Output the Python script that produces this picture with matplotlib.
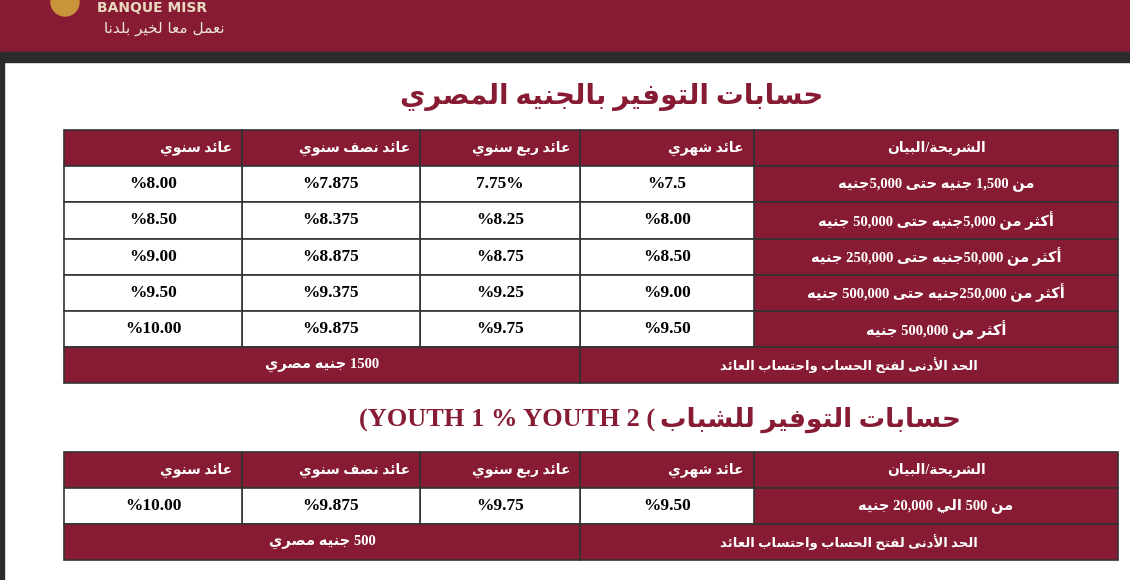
import matplotlib
matplotlib.use('Agg')
import matplotlib.pyplot as plt
from matplotlib.patches import Rectangle

# ---- data ----
col_headers = ['الشريحة/البيان', 'عائد شهري', 'عائد ربع سنوي', 'عائد نصف سنوي', 'عائد سنوي']
tiers = ['من 1,500 جنيه حتى 5,000جنيه',
         'أكثر من 5,000جنيه حتى 50,000 جنيه',
         'أكثر من 50,000جنيه حتى 250,000 جنيه',
         'أكثر من 250,000جنيه حتى 500,000 جنيه',
         'أكثر من 500,000 جنيه']
monthly = ['%7.5', '%8.00', '%8.50', '%9.00', '%9.50']
quarterly = ['7.75%', '%8.25', '%8.75', '%9.25', '%9.75']
semiannual = ['%7.875', '%8.375', '%8.875', '%9.375', '%9.875']
annual = ['%8.00', '%8.50', '%9.00', '%9.50', '%10.00']
min_label = 'الحد الأدنى لفتح الحساب واحتساب العائد'
min_amount1 = '1500 جنيه مصري'
title1 = 'حسابات التوفير بالجنيه المصري'

youth_tiers = ['من 500 الي 20,000 جنيه']
youth_monthly = ['%9.50']
youth_quarterly = ['%9.75']
youth_semiannual = ['%9.875']
youth_annual = ['%10.00']
min_amount2 = '500 جنيه مصري'
title2_ar = 'حسابات التوفير للشباب'
title2_lat = '(YOUTH 1 % YOUTH 2 ('
slogan = 'نعمل معا لخير بلدنا'

# ---- minimal arabic shaping ----
F = {}
def _add(chars, start, n):
    for c in chars:
        F[c] = tuple(chr(start + k) for k in range(n))
        start += n
_add('ء', 0xFE80, 1)
_add('آأؤإ', 0xFE81, 2)
_add('ئ', 0xFE89, 4)
_add('ا', 0xFE8D, 2)
_add('ب', 0xFE8F, 4)
_add('ة', 0xFE93, 2)
_add('تثجحخ', 0xFE95, 4)
_add('دذرز', 0xFEA9, 2)
_add('سشصضطظعغفقكلمنه', 0xFEB1, 4)
_add('و', 0xFEED, 2)
_add('ى', 0xFEEF, 2)
_add('ي', 0xFEF1, 4)
LAMALEF = {'آ': 0xFEF5, 'أ': 0xFEF7, 'إ': 0xFEF9, 'ا': 0xFEFB}

def shape(s):
    out = []
    i = 0
    n = len(s)
    def dual(c):
        return c in F and len(F[c]) == 4
    while i < n:
        c = s[i]
        if c not in F:
            out.append(c); i += 1; continue
        pj = i > 0 and dual(s[i - 1])
        if c == 'ل' and i + 1 < n and s[i + 1] in LAMALEF:
            out.append(chr(LAMALEF[s[i + 1]] + (1 if pj else 0)))
            i += 2; continue
        nj = dual(c) and i + 1 < n and s[i + 1] in F and s[i + 1] != 'ء'
        f = F[c]
        if len(f) == 1:
            out.append(f[0])
        elif pj and nj:
            out.append(f[3])
        elif nj:
            out.append(f[2])
        elif pj:
            out.append(f[1])
        else:
            out.append(f[0])
        i += 1
    return ''.join(out)

def ltr(c):
    return c.isascii() and (c.isalnum() or c in ',.%')

def ar(s):
    s = shape(s)
    runs = []
    for c in s:
        t = ltr(c)
        if runs and runs[-1][0] == t:
            runs[-1][1].append(c)
        else:
            runs.append([t, [c]])
    res = ''
    for t, chars in reversed(runs):
        res += ''.join(chars) if t else ''.join(reversed(chars))
    return res

# ---- drawing ----
MAROON = '#861b33'
FAM = ['Liberation Serif', 'DejaVu Sans']
fig = plt.figure(figsize=(11.3, 5.8), dpi=100)
ax = fig.add_axes([0, 0, 1, 1])
ax.set_xlim(0, 1130)
ax.set_ylim(580, 0)
ax.axis('off')

ax.add_patch(Rectangle((0, 0), 1130, 52, color=MAROON))
ax.add_patch(Rectangle((0, 52), 1130, 10, color='#2b2b2b'))
ax.add_patch(Rectangle((0, 62), 4, 518, color='#2b2b2b'))
ax.add_patch(plt.Circle((65, 2), 14, color='#c9953a'))
ax.text(97, 8, 'BANQUE MISR', color='#e8d9c0', fontsize=10, fontweight='bold',
        ha='left', va='center', family='DejaVu Sans')
ax.text(225, 28, ar(slogan), color='#f0e6d8', fontsize=11, ha='right', va='center',
        family='DejaVu Sans')

xs = [64, 242, 420, 580, 754, 1118]

def cell(x0, x1, y0, y1, text, fill, color, ha='center', size=11):
    ax.add_patch(Rectangle((x0, y0), x1 - x0, y1 - y0, facecolor=fill,
                           edgecolor='#333333', lw=1.2))
    x = (x0 + x1) / 2 if ha == 'center' else x1 - 10
    ax.text(x, (y0 + y1) / 2, text, color=color, fontsize=size, fontweight='bold',
            ha=ha, va='center', family=FAM)

def table(y0, rh, labels, cols, amount):
    # columns drawn right to left
    for j, h in enumerate(col_headers):
        x0, x1 = xs[4 - j], xs[5 - j]
        cell(x0, x1, y0, y0 + rh, ar(h), MAROON, 'white',
             ha='center' if j == 0 else 'right', size=10)
    for r, lab in enumerate(labels):
        y = y0 + rh * (r + 1)
        cell(xs[4], xs[5], y, y + rh, ar(lab), MAROON, 'white', size=10.5)
        for j, col in enumerate(cols):
            cell(xs[3 - j], xs[4 - j], y, y + rh, col[r], 'white', 'black', size=12.5)
    y = y0 + rh * (len(labels) + 1)
    cell(xs[3], xs[5], y, y + rh, ar(min_label), MAROON, 'white', size=9.5)
    cell(xs[0], xs[3], y, y + rh, ar(amount), MAROON, 'white', size=10.5)

ax.text(612, 97, ar(title1), color=MAROON, fontsize=20, fontweight='bold',
        ha='center', va='center', family=FAM)
table(130, 36.2, tiers, [monthly, quarterly, semiannual, annual], min_amount1)

ax.text(655, 420, title2_lat, color=MAROON, fontsize=19, fontweight='bold',
        ha='right', va='center', family=FAM)
ax.text(660, 420, ar(title2_ar), color=MAROON, fontsize=19, fontweight='bold',
        ha='left', va='center', family=FAM)
table(452, 36, youth_tiers, [youth_monthly, youth_quarterly, youth_semiannual, youth_annual],
      min_amount2)

fig.savefig('out.png', dpi=100)
